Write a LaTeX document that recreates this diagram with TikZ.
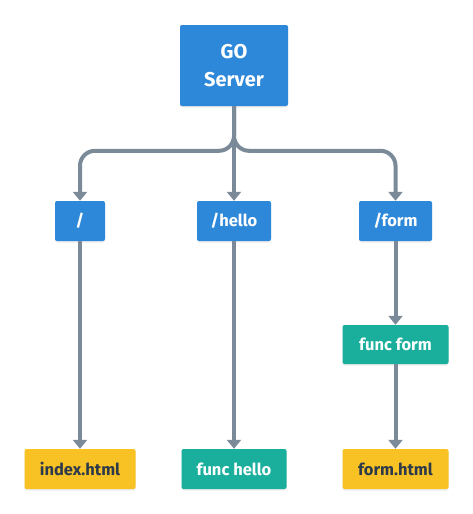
\documentclass[tikz,border=0pt]{standalone}
\usepackage{fontspec}
\setmainfont{Fira Sans}
\usetikzlibrary{arrows.meta,shadows}
\definecolor{cblue}{HTML}{2E88D9}
\definecolor{cteal}{HTML}{1AAF9C}
\definecolor{cyellow}{HTML}{F8C225}
\definecolor{cdark}{HTML}{2C3A4B}
\definecolor{cconn}{HTML}{7B8A99}
\tikzset{
  box/.style={rectangle, rounded corners=2pt, inner sep=0pt, font=\fontsize{16.5}{18}\selectfont\bfseries,
    drop shadow={shadow xshift=0pt, shadow yshift=-1.5pt, opacity=0.15}},
  bluebox/.style={box, fill=cblue, text=white},
  tealbox/.style={box, fill=cteal, text=white},
  yellowbox/.style={box, fill=cyellow, text=cdark},
  conn/.style={draw=cconn, line width=4pt, -{Triangle[width=14pt,length=9pt]}},
}
\begin{document}
\begin{tikzpicture}[x=1pt,y=-1pt]
\useasboundingbox (0,0) rectangle (473,514);
\node[bluebox, minimum width=108pt, minimum height=81pt, align=center, font=\fontsize{20}{28}\selectfont\bfseries] (server) at (234,65.5) {GO\\Server};
\node[bluebox, minimum width=50pt, minimum height=40pt] (slash) at (80,221) {/};
\node[bluebox, minimum width=74pt, minimum height=40pt] (hello) at (234,221) {/hello};
\node[bluebox, minimum width=73pt, minimum height=40pt] (form) at (395.5,221) {/form};
\node[tealbox, minimum width=106pt, minimum height=39pt] (funcform) at (395.5,344.5) {func form};
\node[yellowbox, minimum width=111pt, minimum height=40pt] (index) at (80,469) {index.html};
\node[tealbox, minimum width=105pt, minimum height=40pt] (funchello) at (234,469) {func hello};
\node[yellowbox, minimum width=106pt, minimum height=40pt] (formhtml) at (395.5,469) {form.html};
\draw[conn, rounded corners=15pt] (server.south) |- ([yshift=50pt]slash.north) -- (slash.north);
\draw[conn, rounded corners=15pt] (server.south) |- ([yshift=50pt]form.north) -- (form.north);
\draw[conn] (server.south) -- (hello.north);
\draw[conn] (slash.south) -- (index.north);
\draw[conn] (hello.south) -- (funchello.north);
\draw[conn] (form.south) -- (funcform.north);
\draw[conn] (funcform.south) -- (formhtml.north);
\end{tikzpicture}
\end{document}
